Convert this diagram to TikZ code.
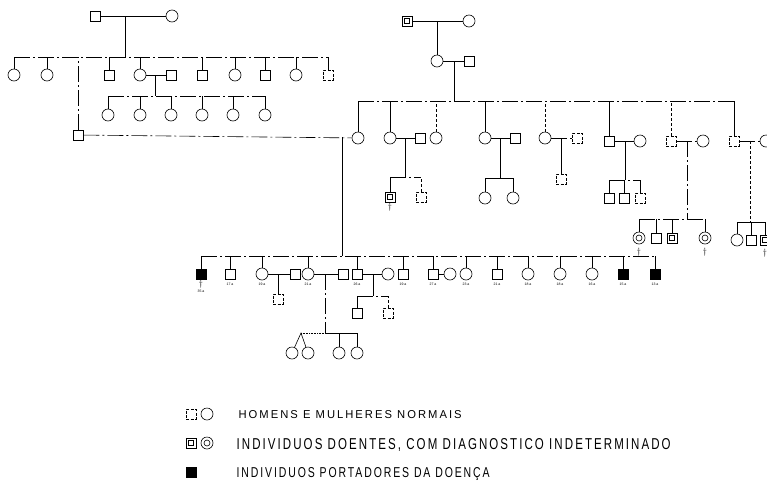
\documentclass[tikz,border=0pt]{standalone}
\usepackage{fontspec}
\setsansfont{Liberation Sans}
\newfontfamily\legendfont{Liberation Sans}[LetterSpace=18]
\usetikzlibrary{calc,positioning}

\tikzset{
  male/.style={draw, rectangle, minimum size=10pt, inner sep=0pt},
  malefaint/.style={male, dash pattern=on 3pt off 1.5pt},
  female/.style={draw, circle, minimum size=12pt, inner sep=0pt},
  maleunk/.style={male, path picture={\draw ([shift={(-2.5pt,-2.5pt)}]path picture bounding box.center) rectangle ++(5pt,5pt);}},
  femaleunk/.style={female, path picture={\draw (path picture bounding box.center) circle (3pt);}},
  carrier/.style={male, fill=black},
  broken/.style={dash pattern=on 16pt off 3pt on 2pt off 3pt},
  faint/.style={dash pattern=on 3pt off 2pt},
  age/.style={font=\sffamily\fontsize{3.5}{3.5}\selectfont, inner sep=0pt},
  dead/.style={font=\fontsize{9}{9}\selectfont, inner sep=0pt},
}

\begin{document}
\begin{tikzpicture}[x=1pt, y=-1pt, line width=0.6pt]
  \useasboundingbox (0,0) rectangle (767,496);
  % left family: couple and their children
  \node[male] (a1) at (95,16) {};
  \node[female] (a2) at (172,16) {};
  \draw (a1) -- (a2);
  \coordinate (am) at (125,16);
  \coordinate (as) at (14,57);
  \coordinate (ae) at (328,57);
  \draw (am) -- (am |- as);
  \draw[broken] (as) -- (ae);
  \foreach \n/\x/\s in {b1/14/female, b2/47/female, b4/109/male, b5/140/female,
                        b6/202/male, b7/235/female, b8/265/male, b9/296/female, b10/328/malefaint} {
    \node[\s] (\n) at (\x,75) {};
    \draw (\n) -- (\n |- as);
  }
  \node[male] (b3) at (78,135) {};
  \draw[broken] (b3) -- (b3 |- as);
  % grandchildren
  \node[male] (b5s) at (171,75) {};
  \draw (b5) -- (b5s);
  \coordinate (bm) at (155,75);
  \coordinate (cs) at (108,96);
  \coordinate (ce) at (265,96);
  \draw (bm) -- (bm |- cs);
  \draw[broken] (cs) -- (ce);
  \foreach \x [count=\i] in {108,140,171,202,233,265} {
    \node[female] (c\i) at (\x,115) {};
    \draw (c\i) -- (c\i |- cs);
  }

  % right family
  \node[maleunk] (r1) at (407,21) {};
  \node[female] (r2) at (469,21) {};
  \draw (r1) -- (r2);
  \node[female] (s1) at (437,61) {};
  \node[male] (s2) at (469,61) {};
  \coordinate (rm) at (437,21);
  \draw (rm) -- (s1);
  \draw (s1) -- (s2);
  \coordinate (sm) at (454,61);
  \coordinate (ts) at (358,101);
  \coordinate (te) at (735,101);
  \draw (sm) -- (sm |- ts);
  \draw[broken] (ts) -- (te);
  % third generation
  \foreach \n/\x/\y/\s in {t1/358/138/female, t2/390/138/female, t4/485/138/female,
                           t6/609/141/male, t8/734/141/malefaint} {
    \node[\s] (\n) at (\x,\y) {};
    \draw (\n) -- (\n |- ts);
  }
  \foreach \n/\x/\y/\s in {t3/436/138/female, t5/545/138/female, t7/671/141/malefaint} {
    \node[\s] (\n) at (\x,\y) {};
    \draw[faint] (\n) -- (\n |- ts);
  }
  \node[male] (t2s) at (420,138) {};
  \node[male] (t4s) at (515,138) {};
  \node[malefaint] (t5s) at (577,138) {};
  \node[female] (t6s) at (640,141) {};
  \node[female] (t7s) at (703,141) {};
  \node[female] (t8s) at (766,141) {};
  \draw (t2) -- (t2s);
  \draw (t4) -- (t4s);
  \draw[broken] (t5) -- (t5s);
  \draw (t6) -- (t6s);
  \draw[broken] (t7) -- (t7s);
  \draw[broken] (t8) -- (t8s);
  % their children
  \coordinate (um1) at (405,138);
  \coordinate (us1) at (390,177);
  \coordinate (ue1) at (421,177);
  \draw (um1) -- (um1 |- us1);
  \draw[broken] (us1) -- (ue1);
  \node[maleunk] (u1) at (390,197) {};
  \node[malefaint] (u2) at (421,197) {};
  \node[dead] (d0) at (390,207) {$\dagger$};
  \draw (u1) -- (u1 |- us1);
  \draw[faint] (u2) -- (u2 |- us1);
  \coordinate (um2) at (500,138);
  \coordinate (us2) at (485,178);
  \coordinate (ue2) at (513,178);
  \draw (um2) -- (um2 |- us2);
  \draw (us2) -- (ue2);
  \node[female] (u3) at (485,198) {};
  \node[female] (u4) at (513,198) {};
  \draw (u3) -- (u3 |- us2);
  \draw (u4) -- (u4 |- us2);
  \coordinate (um3) at (561,138);
  \node[malefaint] (u5) at (561,179) {};
  \draw (um3) -- (u5);
  \coordinate (um4) at (625,141);
  \coordinate (us4) at (609,180);
  \coordinate (ue4) at (640,180);
  \draw (um4) -- (um4 |- us4);
  \draw[broken] (us4) -- (ue4);
  \foreach \n/\x/\s in {u6/609/male, u7/624/male, u8/640/malefaint} {
    \node[\s] (\n) at (\x,198) {};
    \draw (\n) -- (\n |- us4);
  }
  % grandchildren on the right
  \coordinate (vm) at (687,141);
  \coordinate (vs) at (639,219);
  \coordinate (ve) at (705,219);
  \draw[broken] (vm) -- (vm |- vs);
  \draw[broken] (vs) -- (ve);
  \foreach \n/\x/\s in {v1/639/femaleunk, v2/656/male, v3/672/maleunk, v4/705/femaleunk} {
    \node[\s] (\n) at (\x,238) {};
    \draw (\n) -- (\n |- vs);
  }
  \node[dead] (d1) at (639,252) {$\dagger$};
  \node[dead] (d2) at (705,252) {$\dagger$};
  \coordinate (wm) at (750,141);
  \coordinate (ws) at (737,222);
  \coordinate (we) at (765,222);
  \draw[faint] (wm) -- (wm |- ws);
  \draw (ws) -- (we);
  \foreach \n/\x/\s in {w1/737/female, w2/751/male, w3/765/maleunk} {
    \node[\s] (\n) at (\x,240) {};
    \draw (\n) -- (\n |- ws);
  }
  \node[dead] (d3) at (765,253) {$\dagger$};

  % the two families joined
  \draw[broken] (b3) -- (t1);
  \coordinate (km) at (342,137);
  \coordinate (ks) at (201,256);
  \coordinate (ke) at (655,256);
  \draw (km) -- (km |- ks);
  \draw[broken] (ks) -- (ke);
  \foreach \n/\x/\s/\a/\o in {k1/201/carrier/35 a/16pt, k2/230/male/17 a/9pt, k3/262/female/19 a/9pt,
                           k4/308/female/21 a/9pt, k5/357/male/26 a/9pt, k6/403/male/19 a/9pt,
                           k7/433/male/27 a/9pt, k8/466/female/23 a/9pt, k9/497/male/21 a/9pt,
                           k10/528/female/18 a/9pt, k11/560/female/18 a/9pt, k12/592/female/16 a/9pt,
                           k13/623/carrier/15 a/9pt, k14/655/carrier/13 a/9pt} {
    \node[\s] (\n) at (\x,274) {};
    \draw (\n) -- (\n |- ks);
    \node[age, below=\o of \n.center] (g\n) {\a};
  }
  \node[dead] (d4) at (201,284) {$\dagger$};
  % spouses and their children
  \node[male] (k3s) at (295,274) {};
  \node[male] (k4s) at (343,274) {};
  \node[female] (k5s) at (388,274) {};
  \node[female] (k7s) at (450,274) {};
  \draw (k3) -- (k3s);
  \draw (k4) -- (k4s);
  \draw (k5) -- (k5s);
  \draw (k7) -- (k7s);
  \coordinate (hm1) at (278,274);
  \node[malefaint] (h1) at (278,299) {};
  \draw (hm1) -- (h1);
  \coordinate (hm2) at (325,274);
  \coordinate (hx) at (301,333);
  \coordinate (hs) at (325,333);
  \coordinate (he) at (357,333);
  \draw[broken] (hm2) -- (hs);
  \draw[densely dotted] (hx) -- (hs);
  \draw (hs) -- (he);
  \node[female] (x1) at (292,353) {};
  \node[female] (x2) at (308,353) {};
  \node[female] (x3) at (339,353) {};
  \node[female] (x4) at (357,353) {};
  \draw (x1) -- (hx) -- (x2);
  \draw (x3) -- (x3 |- hs);
  \draw (x4) -- (x4 |- hs);
  \coordinate (ym) at (373,274);
  \coordinate (ys) at (357,296);
  \coordinate (ye) at (388,296);
  \draw (ym) -- (ym |- ys);
  \draw[broken] (ys) -- (ye);
  \node[male] (y1) at (357,313) {};
  \node[malefaint] (y2) at (388,313) {};
  \draw (y1) -- (y1 |- ys);
  \draw[faint] (y2) -- (y2 |- ys);

  % legend
  \node[malefaint] (l1) at (191,414) {};
  \node[female] (l2) at (207,414) {};
  \node[anchor=base west] (l3) at (235,418) {\resizebox{223pt}{8pt}{\legendfont HOMENS E MULHERES NORMAIS}};
  \node[maleunk] (l4) at (191,443) {};
  \node[femaleunk] (l5) at (207,443) {};
  \node[anchor=base west] (l6) at (233,449) {\resizebox{434pt}{11pt}{\legendfont INDIVIDUOS DOENTES, COM DIAGNOSTICO INDETERMINADO}};
  \node[carrier] (l7) at (191,472) {};
  \node[anchor=base west] (l8) at (233,477) {\resizebox{253pt}{10pt}{\legendfont INDIVIDUOS PORTADORES DA DOENÇA}};
\end{tikzpicture}
\end{document}
